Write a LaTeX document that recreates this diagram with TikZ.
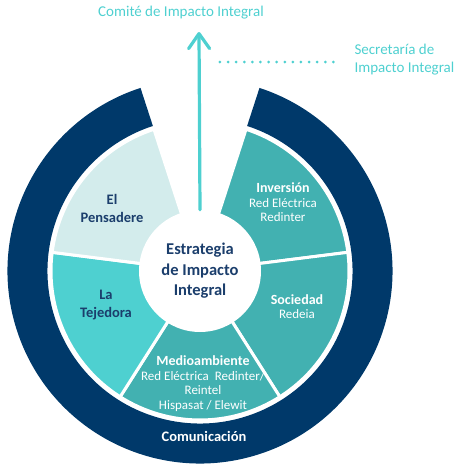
\documentclass[tikz,border=0pt]{standalone}
\usepackage{fontspec}
\setmainfont{Carlito}
\usepackage{tikz}
\usetikzlibrary{arrows.meta, positioning}
\definecolor{azulmarino}{RGB}{0,57,106}
\definecolor{azultexto}{RGB}{27,62,108}
\definecolor{turquesa}{RGB}{78,208,208}
\definecolor{verdeazul}{RGB}{66,177,177}
\definecolor{celeste}{RGB}{211,236,236}
\tikzset{
    sector/.style={
        draw=white, line width=3pt
    },
    etiqueta_oscura/.style={
        align=center, text=azultexto, font=\fontsize{14.5}{18}\selectfont\bfseries
    },
    etiqueta_clara/.style={
        align=center, text=white, font=\fontsize{13}{14.5}\selectfont
    },
    titulo_arriba/.style={
        align=left, text=turquesa, font=\fontsize{15}{18}\selectfont
    },
    flecha/.style={
        line width=3.2pt, draw=turquesa, line cap=round,
        -{Straight Barb[length=15pt, width=21pt, line cap=round, line join=round]}
    },
    punteada/.style={
        line width=3pt, draw=turquesa, line cap=round, dash pattern=on 0pt off 8.1pt
    }
}
\begin{document}
\begin{tikzpicture}[x=1pt, y=1pt]
    \useasboundingbox (-200,-201) rectangle (269,271);

    % Anillo exterior
    \fill[azulmarino] (108:192.5) arc[start angle=108, end angle=432, radius=192.5]
        -- (432:152.5) arc[start angle=432, end angle=108, radius=152.5] -- cycle;

    % Sectores
    \filldraw[sector, fill=verdeazul] (0,0) -- (72:149) arc[start angle=72, end angle=7.2, radius=149] -- cycle;
    \filldraw[sector, fill=verdeazul] (0,0) -- (7.2:149) arc[start angle=7.2, end angle=-57.6, radius=149] -- cycle;
    \filldraw[sector, fill=verdeazul] (0,0) -- (-57.6:149) arc[start angle=-57.6, end angle=-122.4, radius=149] -- cycle;
    \filldraw[sector, fill=turquesa] (0,0) -- (-122.4:149) arc[start angle=-122.4, end angle=-187.2, radius=149] -- cycle;
    \filldraw[sector, fill=celeste] (0,0) -- (-187.2:149) arc[start angle=-187.2, end angle=-252, radius=149] -- cycle;

    % Centro
    \node[circle, fill=white, minimum size=122pt, inner sep=0pt, align=center, text=azultexto,
        font=\fontsize{16.5}{20.5}\selectfont\bfseries] (centro) at (0,0) {Estrategia\\de Impacto\\Integral};

    % Etiquetas de sectores
    \node[etiqueta_oscura] (pensadere) at (-88,63) {El\\Pensadere};
    \node[etiqueta_oscura] (tejedora) at (-94,-34) {La\\Tejedora};
    \node[etiqueta_clara] (inversion) at (83,68.5) {{\fontsize{14}{15}\selectfont\bfseries Inversión}\\Red Eléctrica\\Redinter};
    \node[etiqueta_clara] (sociedad) at (97,-35.5) {{\fontsize{14}{15}\selectfont\bfseries Sociedad}\\Redeia};
    \node[etiqueta_clara] (medioambiente) at (3,-112.5) {{\fontsize{14}{15}\selectfont\bfseries Medioambiente}\\Red Eléctrica~~Redinter/\\Reintel\\Hispasat / Elewit};
    \node[text=white, font=\fontsize{14.5}{18}\selectfont\bfseries] (comunicacion) at (4,-165) {Comunicación};

    % Comités
    \node[titulo_arriba] (comite) at (-19,258) {Comité de Impacto Integral};
    \node[titulo_arriba, anchor=west] (secretaria) at (151,211) {Secretaría de\\Impacto Integral};
    \coordinate (cima) at (-1,239);
    \coordinate (puntos_ini) at (20,209);
    \coordinate (puntos_fin) at (134,209);

    \draw[flecha] (centro.north) -- (cima);
    \draw[punteada] (puntos_ini) -- (puntos_fin);
\end{tikzpicture}
\end{document}
